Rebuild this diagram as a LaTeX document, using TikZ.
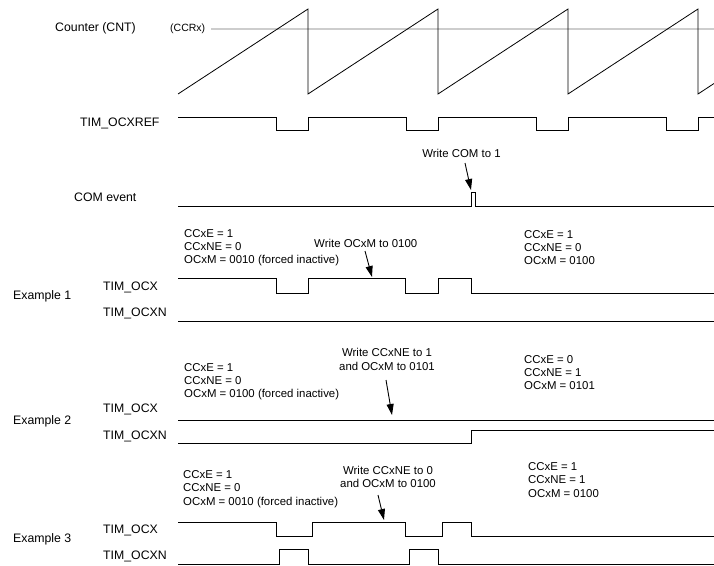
\documentclass[tikz,border=0pt]{standalone}
\usepackage{fontspec}
\setmainfont{Liberation Sans}
\usetikzlibrary{arrows.meta}

\definecolor{levelgray}{RGB}{205,205,205}

\tikzset{
  sig/.style={line width=1pt, line join=miter},
  saw/.style={line width=0.8pt, line join=miter},
  lbl/.style={inner sep=0pt, anchor=west, font=\fontsize{12.3}{14}\selectfont},
  note/.style={inner sep=0pt, align=left, font=\fontsize{11.4}{13.3}\selectfont},
  notearrow/.style={line width=0.9pt, -{Triangle[length=11pt,width=7pt]}}
}

\begin{document}
\begin{tikzpicture}[x=1pt, y=-1pt]
    \useasboundingbox (0,0) rectangle (714,565);

    % counter and compare level
    \draw [line width=1.2pt, levelgray] (211,29) -- (714,29);
    \draw [saw] (178,94) -- (308,9) -- (308,94) -- (438,9) -- (438,94)
      -- (568,9) -- (568,94) -- (698,9) -- (698,94) -- (714,83.5);
    \node [lbl] (cnt) at (55,28) {Counter (CNT)};
    \node [note, anchor=west, font=\fontsize{10.5}{12}\selectfont] (ccrx) at (170,29) {(CCRx)};

    % TIM_OCXREF
    \node [lbl] (ref) at (80,123) {TIM\_OCXREF};
    \draw [sig] (178,117) -- (276,117) -- (276,130) -- (308,130) -- (308,117)
      -- (406,117) -- (406,130) -- (438,130) -- (438,117)
      -- (536,117) -- (536,130) -- (568,130) -- (568,117)
      -- (666,117) -- (666,130) -- (698,130) -- (698,117) -- (714,117);

    % COM event
    \node [lbl] (com) at (74,197) {COM event};
    \draw [sig] (178,206) -- (471,206) -- (471,192) -- (475,192) -- (475,206) -- (714,206);
    \node [note] (writecom) at (461.5,153) {Write COM to 1};
    \coordinate (comtail) at (465,163);
    \coordinate (comtip) at (471,190);
    \draw [notearrow] (comtail) -- (comtip);

    % Example 1
    \node [lbl] (ex1) at (13,296) {Example 1};
    \node [lbl] (ex1ocx) at (103,287) {TIM\_OCX};
    \node [lbl] (ex1ocxn) at (103,313) {TIM\_OCXN};
    \node [note, anchor=west] (ex1before) at (184,247.5)
      {CCxE = 1\\CCxNE = 0\\OCxM = 0010 (forced inactive)};
    \node [note, anchor=west] (ex1after) at (524,247.5)
      {CCxE = 1\\CCxNE = 0\\OCxM = 0100};
    \node [note, anchor=west] (ex1write) at (314,243.5) {Write OCxM to 0100};
    \coordinate (ex1tail) at (365,251);
    \coordinate (ex1tip) at (372,277);
    \draw [notearrow] (ex1tail) -- (ex1tip);
    \draw [sig] (178,278) -- (276,278) -- (276,293) -- (308,293) -- (308,278)
      -- (405,278) -- (405,293) -- (438,293) -- (438,278)
      -- (471,278) -- (471,293) -- (714,293);
    \draw [sig] (178,321) -- (714,321);

    % Example 2
    \node [lbl] (ex2) at (13,421.5) {Example 2};
    \node [lbl] (ex2ocx) at (103,409) {TIM\_OCX};
    \node [lbl] (ex2ocxn) at (103,436) {TIM\_OCXN};
    \node [note, anchor=west] (ex2before) at (184,381.5)
      {CCxE = 1\\CCxNE = 0\\OCxM = 0100 (forced inactive)};
    \node [note, anchor=west] (ex2after) at (524,372.5)
      {CCxE = 0\\CCxNE = 1\\OCxM = 0101};
    \node [note, align=center] (ex2write) at (387,359.5)
      {Write CCxNE to 1\\and OCxM to 0101};
    \coordinate (ex2tail) at (386,380);
    \coordinate (ex2tip) at (392,415);
    \draw [notearrow] (ex2tail) -- (ex2tip);
    \draw [sig] (178,420) -- (714,420);
    \draw [sig] (178,443) -- (471,443) -- (471,430) -- (714,430);

    % Example 3
    \node [lbl] (ex3) at (13,539) {Example 3};
    \node [lbl] (ex3ocx) at (103,530) {TIM\_OCX};
    \node [lbl] (ex3ocxn) at (103,556.5) {TIM\_OCXN};
    \node [note, anchor=west] (ex3before) at (183,489)
      {CCxE = 1\\CCxNE = 0\\OCxM = 0010 (forced inactive)};
    \node [note, anchor=west] (ex3after) at (528,480)
      {CCxE = 1\\CCxNE = 1\\OCxM = 0100};
    \node [note, align=center] (ex3write) at (388,477)
      {Write CCxNE to 0\\and OCxM to 0100};
    \coordinate (ex3tail) at (378,495);
    \coordinate (ex3tip) at (384,520);
    \draw [notearrow] (ex3tail) -- (ex3tip);
    \draw [sig] (178,522) -- (276,522) -- (276,536) -- (312,536) -- (312,522)
      -- (405,522) -- (405,536) -- (442,536) -- (442,522)
      -- (471,522) -- (471,536) -- (714,536);
    \draw [sig] (178,564) -- (279,564) -- (279,549) -- (308,549) -- (308,564)
      -- (409,564) -- (409,549) -- (438,549) -- (438,564) -- (714,564);

\end{tikzpicture}
\end{document}
